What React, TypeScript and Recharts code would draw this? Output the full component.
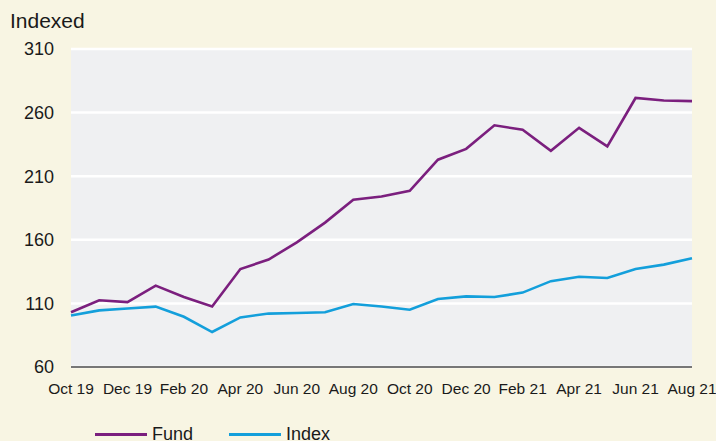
import React from "react";
import {
  LineChart,
  Line,
  XAxis,
  YAxis,
  CartesianGrid,
  Legend,
} from "recharts";

// monthly, Oct 19 .. Aug 21
const months = [
  "Oct 19", "Nov 19", "Dec 19", "Jan 20", "Feb 20", "Mar 20", "Apr 20", "May 20",
  "Jun 20", "Jul 20", "Aug 20", "Sep 20", "Oct 20", "Nov 20", "Dec 20", "Jan 21",
  "Feb 21", "Mar 21", "Apr 21", "May 21", "Jun 21", "Jul 21", "Aug 21",
];

const fund = [
  103, 112.5, 111, 124, 115, 107.5, 137, 144.5, 158, 173.5, 191.5, 194, 198.5,
  223, 231.5, 250, 246.5, 230, 248, 233.5, 271.5, 269.5, 269,
];

const index = [
  100.5, 104.5, 106, 107.5, 99.5, 87.5, 99, 102, 102.5, 103, 109.5, 107.5, 105,
  113.5, 115.5, 115, 118.5, 127.5, 131, 130, 137, 140.5, 145.5,
];

const yTicks = [60, 110, 160, 210, 260, 310];

const data = months.map((m, i) => ({ month: m, fund: fund[i], index: index[i] }));

const FONT = '"Liberation Sans", Arial, Helvetica, sans-serif';
const FUND_COLOR = "#7b1f7e";
const INDEX_COLOR = "#139fdb";

function LegendBox() {
  const items = [
    { name: "Fund", color: FUND_COLOR },
    { name: "Index", color: INDEX_COLOR },
  ];
  return (
    <div
      style={{
        display: "flex",
        alignItems: "center",
        height: 30,
        paddingLeft: 95,
        fontFamily: FONT,
        transform: "translateY(8px)",
      }}
    >
      {items.map((it) => (
        <div key={it.name} style={{ display: "flex", alignItems: "center", marginRight: 36 }}>
          <div style={{ width: 52, height: 3, background: it.color, marginRight: 5 }} />
          <span style={{ fontSize: 18, color: "#1a1a1a" }}>{it.name}</span>
        </div>
      ))}
    </div>
  );
}

export default function App() {
  return (
    <div
      style={{
        position: "fixed",
        top: 0,
        left: 0,
        width: 716,
        height: 441,
        background: "#f8f5e3",
        fontFamily: FONT,
        overflow: "hidden",
      }}
    >
      <div style={{ position: "absolute", left: 10, top: 9, fontSize: 21, color: "#1a1a1a" }}>
        Indexed
      </div>
      <LineChart
        width={716}
        height={441}
        data={data}
        margin={{ top: 49, right: 24, bottom: 0, left: 0 }}
      >
        <CartesianGrid
          vertical={false}
          stroke="#ffffff"
          strokeWidth={2.5}
          fill="#eff0f2"
        />
        <XAxis
          dataKey="month"
          interval={1}
          tickLine={false}
          tickSize={0}
          tickMargin={16}
          height={44}
          axisLine={{ stroke: "#4a4a4a", strokeWidth: 1.5 }}
          tick={{ fill: "#1a1a1a", fontSize: 15.5, fontFamily: FONT }}
        />
        <YAxis
          domain={[60, 310]}
          ticks={yTicks}
          width={71}
          axisLine={false}
          tickLine={false}
          tickSize={0}
          tickMargin={17}
          tick={{ fill: "#1a1a1a", fontSize: 18, fontFamily: FONT }}
        />
        <Legend verticalAlign="bottom" height={30} content={() => <LegendBox />} />
        <Line
          type="linear"
          dataKey="fund"
          name="Fund"
          stroke={FUND_COLOR}
          strokeWidth={2.6}
          dot={false}
          isAnimationActive={false}
        />
        <Line
          type="linear"
          dataKey="index"
          name="Index"
          stroke={INDEX_COLOR}
          strokeWidth={2.6}
          dot={false}
          isAnimationActive={false}
        />
      </LineChart>
    </div>
  );
}
